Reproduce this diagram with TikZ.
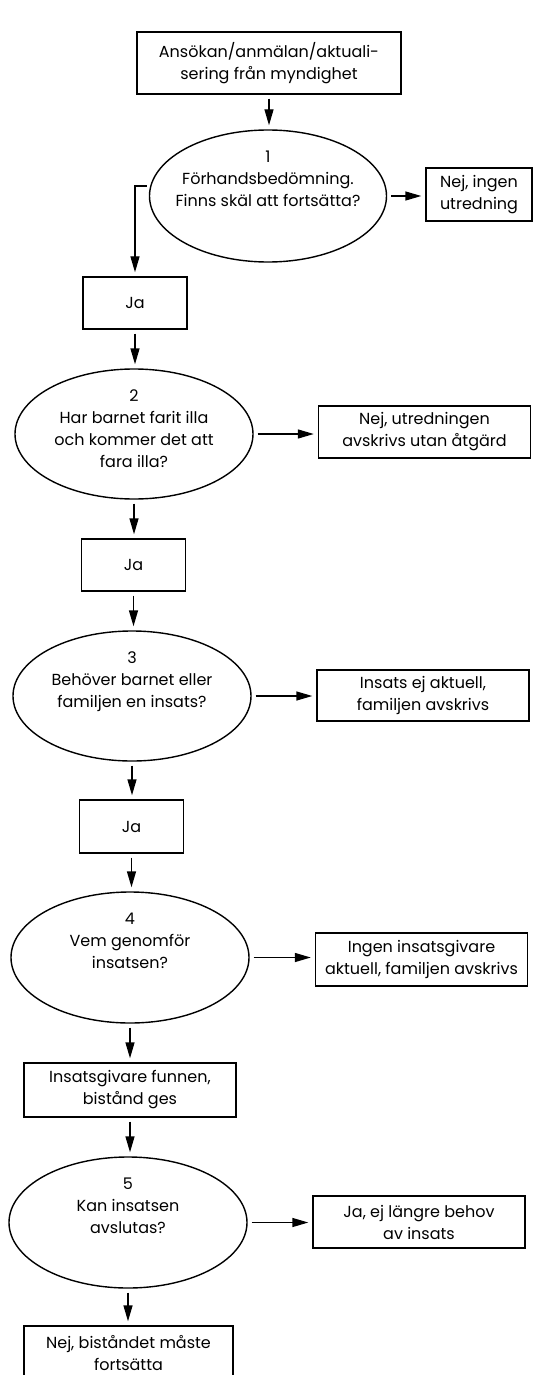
\documentclass[tikz,border=0pt]{standalone}
\usepackage{fontspec}
\setmainfont{Poppins}
\usetikzlibrary{shapes.geometric,arrows.meta}
\tikzset{
	box/.style={draw, rectangle, line width=0.7pt, inner sep=0pt, align=center, minimum width=106pt, minimum height=26pt},
	jabox/.style={box, minimum width=52pt},
	decision/.style={draw, ellipse, line width=0.7pt, inner sep=0pt, minimum width=119pt, minimum height=65pt},
	qtext/.style={anchor=north, align=center, inner sep=0pt, yshift=-10.5pt},
	flow/.style={->, line width=0.7pt, shorten <=2pt, shorten >=2pt}
}
\begin{document}
\begin{tikzpicture}[x=0.5pt,y=-0.5pt,>={Triangle[length=8pt,width=4.5pt]},font=\fontsize{8}{11}\selectfont]
				\useasboundingbox[fill=white] (0,0) rectangle (558,1375);
				\node[box, minimum width=132pt, minimum height=31pt] (start) at (269,63) {Ansökan/anmälan/aktuali-\\sering från myndighet};
				\node[decision, minimum width=118.5pt, minimum height=66pt, label={[qtext]north:{1\\Förhandsbedömning.\\Finns skäl att fortsätta?}}] (q1) at (268,196) {};
				\node[box, minimum width=53pt, minimum height=26.5pt] (out1) at (479,194.5) {Nej, ingen\\utredning};
				\node[jabox] (ja1) at (135,303) {Ja};
				\node[decision, label={[qtext]north:{2\\Har barnet farit illa\\och kommer det att\\fara illa?}}] (q2) at (134,434) {};
				\node[box] (out2) at (424.5,432) {Nej, utredningen\\avskrivs utan åtgärd};
				\node[jabox] (ja2) at (133.5,565) {Ja};
				\node[decision, label={[qtext]north:{3\\Behöver barnet eller\\familjen en insats?}}] (q3) at (132,696) {};
				\node[box, minimum height=25.5pt] (out3) at (423,695.5) {Insats ej aktuell,\\familjen avskrivs};
				\node[jabox, minimum height=26.5pt] (ja3) at (131.5,826.5) {Ja};
				\node[decision, minimum height=65.5pt, label={[qtext]north:{4\\Vem genomför\\insatsen?}}] (q4) at (130,957.5) {};
				\node[box, minimum height=26.5pt] (out4) at (421.5,959.5) {Ingen insatsgivare\\aktuell, familjen avskrivs};
				\node[box, minimum height=27pt] (given) at (130,1090) {Insatsgivare funnen,\\bistånd ges};
				\node[decision, minimum height=65.5pt, label={[qtext]north:{5\\Kan insatsen\\avslutas?}}] (q5) at (128,1222.5) {};
				\node[box] (out5) at (419,1222) {Ja, ej längre behov\\av insats};
				\node[box, minimum width=104.5pt, minimum height=27pt] (cont) at (128.5,1353) {Nej, biståndet måste\\fortsätta};
				\draw[flow] (start) -- (start |- q1.north);
				\draw[flow] (q1) -- (q1 -| out1.west);
				\draw[flow, shorten <=1pt] ([yshift=5pt]q1.west) -| (ja1.north);
				\draw[flow] (ja1) -- (ja1 |- q2.north);
				\draw[flow] (q2) -- (q2 -| out2.west);
				\draw[flow] (q2) -- (q2 |- ja2.north);
				\draw[flow] (ja2) -- (ja2 |- q3.north);
				\draw[flow] (q3) -- (q3 -| out3.west);
				\draw[flow] (q3) -- (q3 |- ja3.north);
				\draw[flow] (ja3) -- (ja3 |- q4.north);
				\draw[flow] (q4) -- (q4 -| out4.west);
				\draw[flow] (q4) -- (q4 |- given.north);
				\draw[flow] (given) -- (given |- q5.north);
				\draw[flow] (q5) -- (q5 -| out5.west);
				\draw[flow] (q5) -- (q5 |- cont.north);
\end{tikzpicture}
\end{document}
